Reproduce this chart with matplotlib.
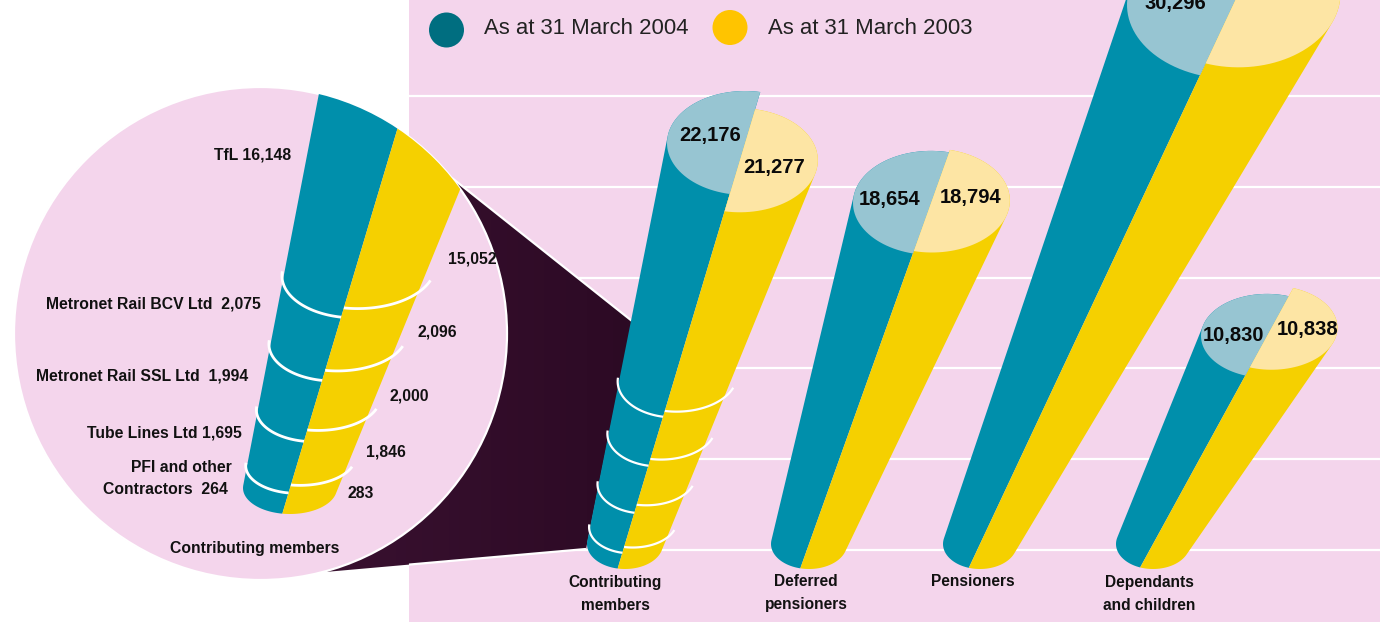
import numpy as np
import matplotlib
matplotlib.use("Agg")
import matplotlib.pyplot as plt
from matplotlib.patches import Polygon, Circle, Rectangle
from matplotlib.colors import LinearSegmentedColormap

# ---------- data ----------
categories = ["Contributing\nmembers", "Deferred\npensioners", "Pensioners", "Dependants\nand children"]
values_2004 = [22176, 18654, 30296, 10830]
values_2003 = [21277, 18794, 30980, 10838]
legend_labels = ["As at 31 March 2004", "As at 31 March 2003"]
breakdown_names = ["PFI and other\nContractors", "Tube Lines Ltd", "Metronet Rail SSL Ltd", "Metronet Rail BCV Ltd", "TfL"]
breakdown_2004 = [264, 1695, 1994, 2075, 16148]
breakdown_2003 = [283, 1846, 2000, 2096, 15052]

# ---------- styles / layout ----------
PINK, WHITE = "#f4d5ec", "#ffffff"
BLUE, YEL = "#008fab", "#f5d000"
BLUE_T, YEL_T = "#97c5d2", "#fde5a4"
BOLD = "Liberation Sans"
W, H = 1380, 622
VAL_Y0, VAL_K = 520.0, 0.017     # value axis of the cylinders
BASE_Y, BASE_B = 544.0, 25.0

base_x = [625, 809, 980, 1153]
base_a = [38, 38, 37, 37]
top_x = [745, 931, 1233, 1267]
top_a_2004 = [78, 78, 106, 66]
top_a_2003 = [78, 78, 102, 66]
top_b = [52, 52, 74, 42]
nudge_2003 = [2, 0, 0, -8]
value_lab_2004 = [(710, 135), (890, 200), (1175, 4), (1234, 335)]
value_lab_2003 = [(774, 167), (971, 197), (1285, -9), (1308, 329)]
cat_x = [615, 806, 973, 1149]
grid_y = [96, 187, 278, 368, 459, 550]


def value_y(v):
    return VAL_Y0 - VAL_K * v


def half(cx, cy, a, b, lean, side, n=60):
    t0 = np.arctan2(-1.0 / b, lean / a)
    if side == "left":
        th = np.linspace(t0 + np.pi, t0 + 2 * np.pi, n)
    else:
        th = np.linspace(t0, t0 + np.pi, n)
    return np.column_stack([cx + a * np.cos(th), cy + b * np.sin(th)])


def hull(pts):
    pts = sorted(set(map(tuple, np.round(pts, 3))))
    def chain(ps):
        out = []
        for p in ps:
            while len(out) > 1 and ((out[-1][0] - out[-2][0]) * (p[1] - out[-2][1])
                                    - (out[-1][1] - out[-2][1]) * (p[0] - out[-2][0])) <= 0:
                out.pop()
            out.append(p)
        return out
    lo, up = chain(pts), chain(pts[::-1])
    return np.array(lo[:-1] + up[:-1])


fig = plt.figure(figsize=(W / 100, H / 100), dpi=100, facecolor=WHITE)
ax = fig.add_axes([0, 0, 1, 1])
ax.set_axis_off()

ax.add_patch(Rectangle((409, 0), W - 409, H, fc=PINK, ec="none", zorder=1))
ax.hlines(grid_y, 409, W, color=WHITE, lw=1.6, zorder=2)

# connecting wedge
wedge = np.array([(452, 178), (632, 321), (586, 549), (325, 572), (300, 400)])
cmap = LinearSegmentedColormap.from_list("w", ["#3a1131", "#2c0a24"])
im = ax.imshow(np.linspace(0, 1, 64)[None, :], extent=(300, 640, 600, 150), cmap=cmap,
               aspect="auto", zorder=3)
wp = Polygon(wedge, closed=True, transform=ax.transData, fc="none", ec="none")
ax.add_patch(wp)
im.set_clip_path(wp)
ax.plot([452, 632], [178, 321], color=WHITE, lw=1.6, zorder=4, solid_capstyle="butt")
ax.plot([409, 586], [564.6, 549], color=WHITE, lw=1.6, zorder=4, solid_capstyle="butt")
ax.set_xlim(0, W)
ax.set_ylim(H, 0)

# magnifier
disc = Circle((260.5, 333.5), 246.5, fc=PINK, ec=WHITE, lw=1.6, zorder=5)
ax.add_patch(disc)


def cylinder(i):
    lean = (top_x[i] - base_x[i]) / (BASE_Y - value_y(values_2004[i]))
    for val, nud, side, col, tcol, a, z in [
        (values_2004[i], 0, "left", BLUE, BLUE_T, top_a_2004[i], 20),
        (values_2003[i], nudge_2003[i], "right", YEL, YEL_T, top_a_2003[i], 21),
    ]:
        y = value_y(val) + nud
        x = base_x[i] + lean * (BASE_Y - y)
        t = half(x, y, a, top_b[i], lean, side)
        b = half(base_x[i], BASE_Y, base_a[i], BASE_B, lean, side)
        ax.add_patch(Polygon(hull(np.vstack([t, b])), fc=col, ec="none", zorder=z))
        ax.add_patch(Polygon(t, fc=tcol, ec="none", zorder=z + 5))


for i in range(4):
    cylinder(i)
    for (vx, vy), v in ((value_lab_2004[i], values_2004[i]), (value_lab_2003[i], values_2003[i])):
        ax.text(vx, vy, f"{v:,}", ha="center", va="center", family=BOLD, weight="bold",
                fontsize=14.5, color="#0a0a0a", zorder=40)
    for k, line in enumerate(categories[i].split("\n")):
        ax.text(cat_x[i], 582 + 23 * k, line, ha="center", va="center", family=BOLD,
                weight="bold", fontsize=11.2, color="#111111", zorder=40)

# inset cylinder, clipped by the disc
IN = dict(bx=290.0, by=488.0, ba=47.0, bb=26.0, tx=424.0, ty=40.0, ta=94.0, tb=60.0)
lean_in = (IN["tx"] - IN["bx"]) / (IN["by"] - IN["ty"])
for side, col, z in (("left", BLUE, 6), ("right", YEL, 7)):
    t = half(IN["tx"], IN["ty"], IN["ta"], IN["tb"], lean_in, side)
    b = half(IN["bx"], IN["by"], IN["ba"], IN["bb"], lean_in, side)
    p = Polygon(hull(np.vstack([t, b])), fc=col, ec="none", zorder=z)
    ax.add_patch(p)
    p.set_clip_path(disc)


def ring(bx, by, ba, bb, tx, ty, ta, tb, ys, side, lw, z):
    """Boundary arc whose lowest point on the split line sits at ys."""
    lean = (tx - bx) / (by - ty)
    cy = ys - bb
    for _ in range(4):
        f = (by - cy) / (by - ty)
        a, b = ba + (ta - ba) * f, bb + (tb - bb) * f
        tt = 1 / np.hypot(lean / a, 1 / b)
        cy = ys - tt
    cx = bx + lean * (by - cy)
    t0 = np.arctan2(-1.0 / b, lean / a)
    if side == "left":
        th = np.linspace(t0 + np.pi, np.radians(186), 40)
        xs = cx + 1.04 * a * np.cos(th)
        yy = cy + b * np.sin(th)
    else:
        ay = 1.1 * a
        th = np.linspace(t0 + np.pi, np.radians(20), 40)
        xs = cx + ay * np.cos(th)
        yy = cy + b * np.sin(th)
    xs = xs + (cx - lean * tt) - xs[0]
    ax.plot(xs, yy, color=WHITE, lw=lw, zorder=z, solid_capstyle="butt")


cum_04, cum_03 = np.cumsum(breakdown_2004[:4]), np.cumsum(breakdown_2003[:4])
for c4, c3 in zip(cum_04, cum_03):
    # main cylinder
    g = (base_x[0], BASE_Y, base_a[0], BASE_B, top_x[0], value_y(values_2004[0]), top_a_2004[0], top_b[0])
    ring(*g, 559 - 0.0236 * c4, "left", 1.6, 30)
    ring(*g, 553.5 - 0.0229 * c3, "right", 1.6, 30)
    # inset
    g2 = (IN["bx"], IN["by"], IN["ba"], IN["bb"], IN["tx"], IN["ty"], IN["ta"], IN["tb"])
    ring(*g2, 501 - 0.0305 * c4, "left", 2.0, 10)
    ring(*g2, 493.4 - 0.0298 * c3, "right", 2.0, 10)

# inset texts
sm = dict(family=BOLD, weight="bold", fontsize=11.3, color="#111111", va="center", zorder=40)
ax.text(214, 155, f"{breakdown_names[4]} {breakdown_2004[4]:,}", ha="left", **sm)
ax.text(46, 304, f"{breakdown_names[3]}  {breakdown_2004[3]:,}", ha="left", **sm)
ax.text(36, 376, f"{breakdown_names[2]}  {breakdown_2004[2]:,}", ha="left", **sm)
ax.text(87, 433, f"{breakdown_names[1]} {breakdown_2004[1]:,}", ha="left", **sm)
ax.text(232, 468, breakdown_names[0].split("\n")[0], ha="right", **sm)
ax.text(228, 489, f"{breakdown_names[0].split(chr(10))[1]}  {breakdown_2004[0]:,}", ha="right", **sm)
ax.text(170, 548, categories[0].replace("\n", " "), ha="left", **sm)
for (x, y), v in zip([(348, 494), (366, 452), (390, 396), (417, 332), (448, 259)], breakdown_2003):
    ax.text(x, y, f"{v:,}", ha="left", **sm)

# legend
ax.add_patch(Circle((446.5, 30), 17.5, fc="#006e80", ec="none", zorder=40))
ax.add_patch(Circle((730, 27.5), 17.5, fc="#ffc400", ec="none", zorder=40))
ax.text(484, 28, legend_labels[0], ha="left", va="center", family="Liberation Sans",
        fontsize=15.9, color="#222222", zorder=40)
ax.text(768, 28, legend_labels[1], ha="left", va="center", family="Liberation Sans",
        fontsize=15.9, color="#222222", zorder=40)

fig.savefig("out.png", dpi=100)
